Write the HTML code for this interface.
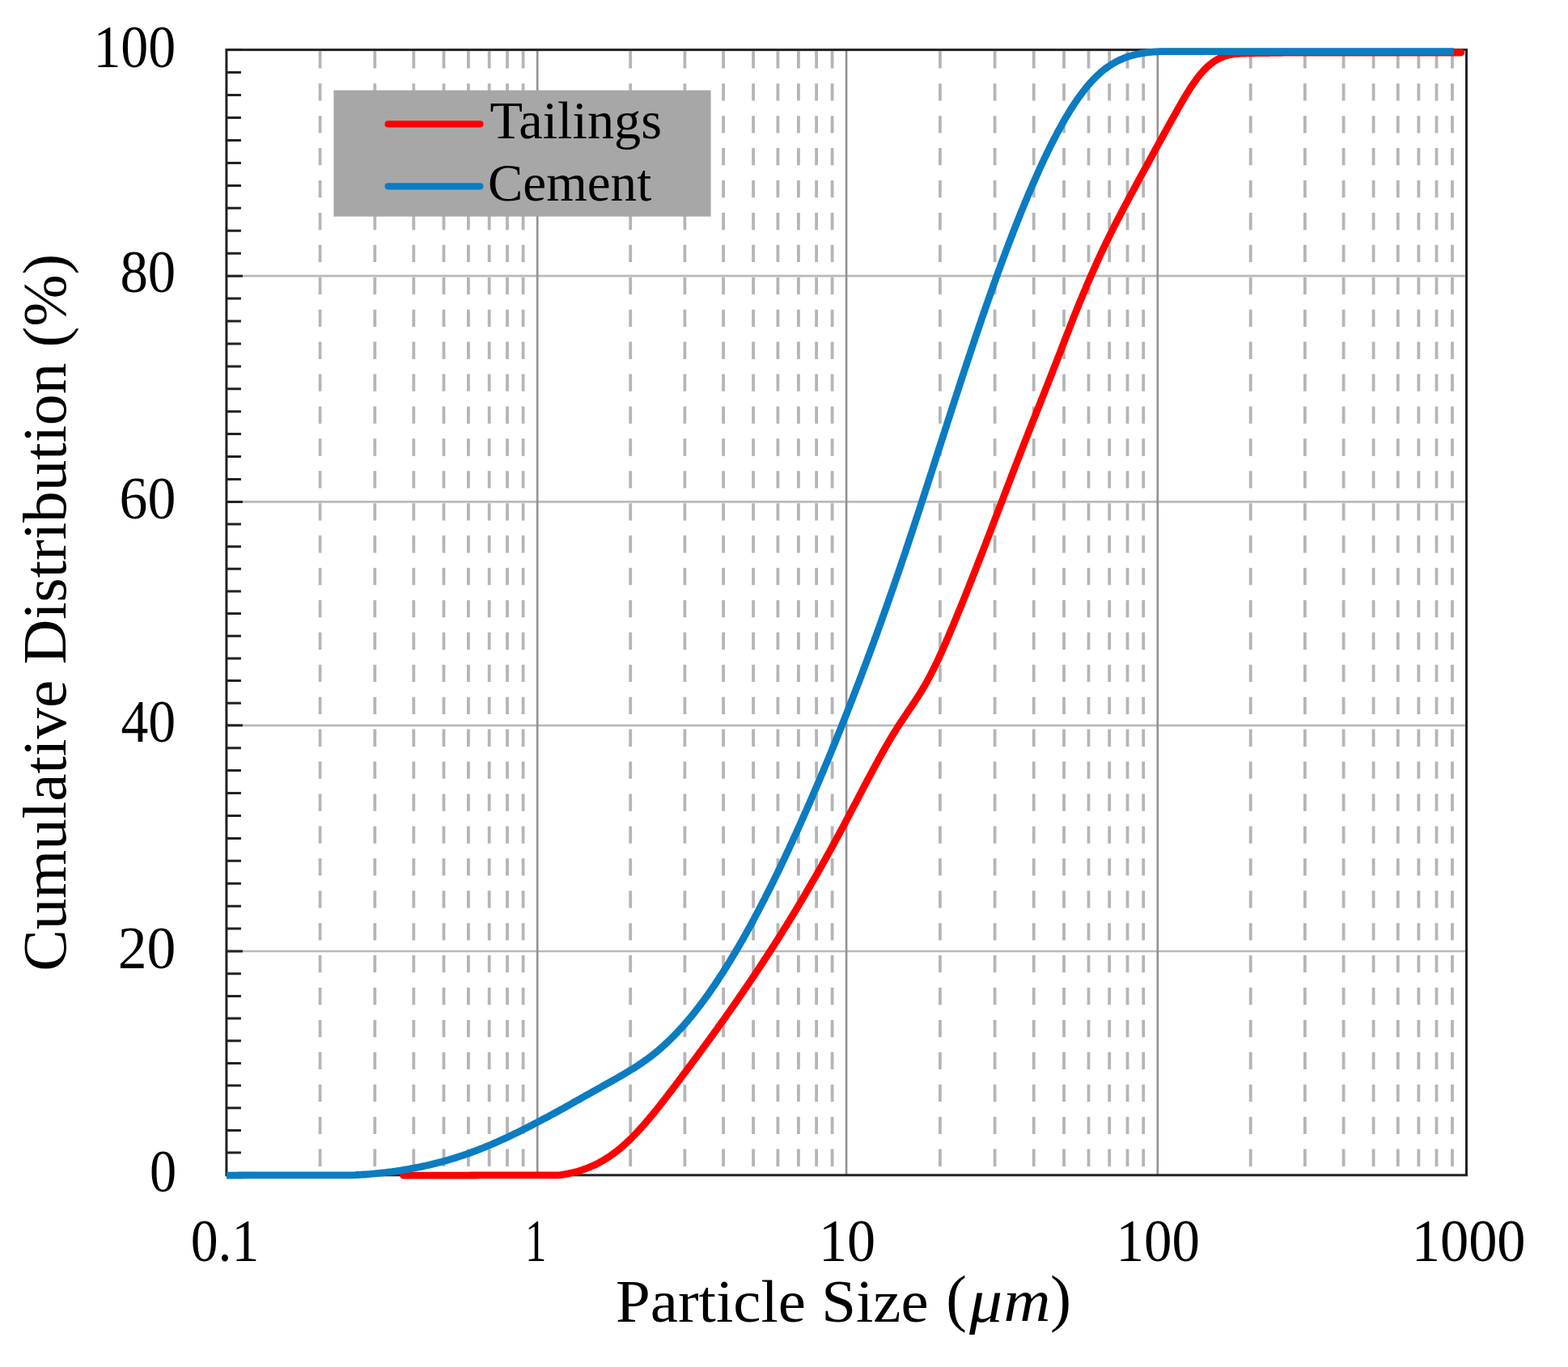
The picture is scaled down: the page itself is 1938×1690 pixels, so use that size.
<!DOCTYPE html><html><head><meta charset="utf-8"><title>Cumulative Distribution</title><style>html,body{margin:0;padding:0;background:#fff;}svg{display:block;}</style></head><body>
<svg xmlns="http://www.w3.org/2000/svg" width="1938" height="1690" viewBox="0 0 1938 1690">
<rect x="0" y="0" width="1938" height="1690" fill="#fff"/>
<path d="M395.6 63.3V1452.8M463.3 63.3V1452.8M511.3 63.3V1452.8M548.5 63.3V1452.8M578.9 63.3V1452.8M604.7 63.3V1452.8M627.0 63.3V1452.8M646.6 63.3V1452.8M779.2 63.3V1452.8M846.4 63.3V1452.8M894.1 63.3V1452.8M931.1 63.3V1452.8M961.4 63.3V1452.8M986.9 63.3V1452.8M1009.1 63.3V1452.8M1028.6 63.3V1452.8M1161.9 63.3V1452.8M1229.6 63.3V1452.8M1277.7 63.3V1452.8M1315.0 63.3V1452.8M1345.5 63.3V1452.8M1371.2 63.3V1452.8M1393.5 63.3V1452.8M1413.2 63.3V1452.8M1545.7 63.3V1452.8M1612.9 63.3V1452.8M1660.6 63.3V1452.8M1697.6 63.3V1452.8M1727.8 63.3V1452.8M1753.4 63.3V1452.8M1775.5 63.3V1452.8M1795.0 63.3V1452.8" stroke="#b5b5b5" stroke-width="3.8" stroke-dasharray="21.3 18.62" fill="none"/>
<path d="M279.9 1176.0H1812.5M279.9 896.8H1812.5M279.9 620.4H1812.5M279.9 341.2H1812.5" stroke="#b9b9b9" stroke-width="2.7" fill="none"/>
<path d="M664.2 61.6V1452.8M1046.1 61.6V1452.8M1430.8 61.6V1452.8" stroke="#919191" stroke-width="2.6" fill="none"/>
<rect x="412.4" y="111.6" width="466.2" height="156.1" fill="#a7a7a7"/>
<rect x="279.9" y="61.6" width="1532.6" height="1391.2" fill="none" stroke="#222" stroke-width="3"/>
<path d="M279.9 1452.8H299.9M279.9 1425.1H297.9M279.9 1397.4H297.9M279.9 1369.8H297.9M279.9 1342.1H297.9M279.9 1314.4H297.9M279.9 1286.7H297.9M279.9 1259.0H297.9M279.9 1231.4H297.9M279.9 1203.7H297.9M279.9 1176.0H299.9M279.9 1148.1H297.9M279.9 1120.2H297.9M279.9 1092.2H297.9M279.9 1064.3H297.9M279.9 1036.4H297.9M279.9 1008.5H297.9M279.9 980.6H297.9M279.9 952.6H297.9M279.9 924.7H297.9M279.9 896.8H299.9M279.9 869.2H297.9M279.9 841.5H297.9M279.9 813.9H297.9M279.9 786.2H297.9M279.9 758.6H297.9M279.9 731.0H297.9M279.9 703.3H297.9M279.9 675.7H297.9M279.9 648.0H297.9M279.9 620.4H299.9M279.9 592.5H297.9M279.9 564.6H297.9M279.9 536.6H297.9M279.9 508.7H297.9M279.9 480.8H297.9M279.9 452.9H297.9M279.9 425.0H297.9M279.9 397.0H297.9M279.9 369.1H297.9M279.9 341.2H299.9M279.9 313.2H297.9M279.9 285.3H297.9M279.9 257.3H297.9M279.9 229.4H297.9M279.9 201.4H297.9M279.9 173.4H297.9M279.9 145.5H297.9M279.9 117.5H297.9M279.9 89.6H297.9M279.9 61.6H299.9" stroke="#222" stroke-width="3" fill="none"/>
<path d="M498.6 1453.2 L501.2 1453.2 L503.8 1453.2 L506.4 1453.2 L509.1 1453.2 L511.7 1453.2 L514.3 1453.2 L516.9 1453.2 L519.5 1453.2 L522.1 1453.2 L524.8 1453.2 L527.4 1453.2 L530.0 1453.2 L532.6 1453.2 L535.2 1453.2 L537.8 1453.2 L540.4 1453.2 L543.1 1453.2 L545.7 1453.2 L548.3 1453.2 L550.9 1453.2 L553.5 1453.2 L556.1 1453.2 L558.8 1453.2 L561.4 1453.2 L564.0 1453.2 L566.6 1453.2 L569.2 1453.2 L571.8 1453.2 L574.4 1453.2 L577.1 1453.1 L579.7 1453.1 L582.3 1453.0 L584.9 1453.0 L587.5 1453.0 L590.1 1452.9 L592.8 1452.9 L595.4 1452.9 L598.0 1452.9 L600.6 1452.9 L603.2 1452.9 L605.8 1452.9 L608.4 1452.9 L611.1 1452.9 L613.7 1452.9 L616.3 1452.9 L618.9 1452.9 L621.5 1452.9 L624.1 1452.9 L626.8 1452.9 L629.4 1452.9 L632.0 1452.9 L634.6 1452.9 L637.2 1452.9 L639.8 1452.9 L642.4 1452.9 L645.1 1452.9 L647.7 1452.9 L650.3 1452.9 L652.9 1452.9 L655.5 1452.9 L658.1 1452.9 L660.8 1452.9 L663.4 1452.9 L666.0 1452.9 L668.6 1452.9 L671.2 1452.9 L673.8 1452.9 L676.5 1452.9 L679.1 1452.9 L681.7 1452.9 L684.3 1452.9 L686.9 1452.9 L689.5 1452.9 L692.1 1452.7 L694.8 1452.3 L697.4 1451.9 L700.0 1451.4 L702.6 1450.9 L705.2 1450.3 L707.8 1449.7 L710.5 1449.1 L713.1 1448.4 L715.7 1447.6 L718.3 1446.8 L720.9 1445.9 L723.5 1445.0 L726.1 1444.0 L728.8 1442.9 L731.4 1441.8 L733.7 1440.8 L736.0 1439.7 L738.2 1438.6 L740.5 1437.4 L742.8 1436.1 L745.1 1434.8 L747.4 1433.5 L749.7 1432.0 L752.0 1430.6 L754.3 1429.0 L756.5 1427.4 L758.8 1425.8 L761.1 1424.0 L763.4 1422.3 L765.4 1420.7 L767.3 1419.0 L769.3 1417.4 L771.3 1415.6 L773.2 1413.9 L775.2 1412.0 L777.1 1410.2 L779.1 1408.3 L781.1 1406.3 L783.0 1404.3 L785.0 1402.3 L787.0 1400.2 L788.9 1398.1 L790.9 1396.0 L792.8 1393.8 L794.8 1391.6 L796.8 1389.4 L798.7 1387.1 L800.4 1385.2 L802.0 1383.3 L803.6 1381.3 L805.3 1379.4 L806.9 1377.4 L808.5 1375.4 L810.2 1373.4 L811.8 1371.4 L813.4 1369.3 L815.1 1367.3 L816.7 1365.2 L818.3 1363.1 L820.0 1361.0 L821.6 1358.9 L823.2 1356.8 L824.9 1354.7 L826.5 1352.5 L828.1 1350.4 L829.8 1348.3 L831.4 1346.1 L833.1 1343.9 L834.7 1341.8 L836.3 1339.6 L838.0 1337.4 L839.6 1335.3 L841.2 1333.1 L842.9 1330.9 L844.5 1328.7 L846.1 1326.5 L847.8 1324.4 L849.4 1322.2 L851.0 1320.0 L852.7 1317.8 L854.3 1315.6 L855.9 1313.4 L857.6 1311.2 L859.2 1309.0 L860.8 1306.8 L862.5 1304.5 L864.1 1302.3 L865.7 1300.1 L867.4 1297.9 L869.0 1295.7 L870.6 1293.4 L872.3 1291.2 L873.9 1289.0 L875.6 1286.7 L877.2 1284.5 L878.8 1282.2 L880.5 1280.0 L882.1 1277.7 L883.7 1275.4 L885.4 1273.2 L887.0 1270.9 L888.6 1268.6 L890.3 1266.3 L891.9 1264.0 L893.5 1261.8 L895.2 1259.5 L896.8 1257.2 L898.4 1254.8 L900.1 1252.5 L901.7 1250.2 L903.3 1247.9 L905.0 1245.6 L906.6 1243.2 L908.2 1240.9 L909.9 1238.5 L911.5 1236.2 L913.1 1233.8 L914.8 1231.4 L916.4 1229.1 L918.1 1226.7 L919.7 1224.3 L921.3 1221.9 L923.0 1219.5 L924.6 1217.1 L926.2 1214.7 L927.9 1212.3 L929.5 1209.9 L931.1 1207.4 L932.8 1205.0 L934.4 1202.5 L936.0 1200.1 L937.7 1197.6 L939.3 1195.2 L940.9 1192.7 L942.6 1190.2 L944.2 1187.7 L945.8 1185.2 L947.5 1182.7 L949.1 1180.2 L950.7 1177.7 L952.4 1175.1 L954.0 1172.6 L955.7 1170.0 L957.3 1167.5 L958.9 1164.9 L960.6 1162.3 L962.2 1159.8 L963.8 1157.2 L965.5 1154.6 L967.1 1152.0 L968.7 1149.3 L970.4 1146.7 L972.0 1144.1 L973.6 1141.4 L975.3 1138.8 L976.6 1136.6 L977.9 1134.5 L979.2 1132.4 L980.5 1130.2 L981.8 1128.1 L983.1 1125.9 L984.4 1123.7 L985.7 1121.6 L987.0 1119.4 L988.3 1117.2 L989.7 1115.0 L991.0 1112.8 L992.3 1110.6 L993.6 1108.4 L994.9 1106.2 L996.2 1103.9 L997.5 1101.7 L998.8 1099.5 L1000.1 1097.2 L1001.4 1095.0 L1002.7 1092.7 L1004.0 1090.4 L1005.3 1088.2 L1006.7 1085.9 L1008.0 1083.6 L1009.3 1081.3 L1010.6 1079.0 L1011.9 1076.7 L1013.2 1074.4 L1014.5 1072.1 L1015.8 1069.8 L1017.1 1067.4 L1018.4 1065.1 L1019.7 1062.8 L1021.0 1060.4 L1022.3 1058.1 L1023.7 1055.7 L1025.0 1053.3 L1026.3 1051.0 L1027.6 1048.6 L1028.9 1046.2 L1030.2 1043.8 L1031.5 1041.4 L1032.8 1039.0 L1034.1 1036.6 L1035.4 1034.2 L1036.7 1031.8 L1038.0 1029.4 L1039.3 1026.9 L1040.7 1024.5 L1042.0 1022.0 L1043.3 1019.6 L1044.6 1017.1 L1045.9 1014.7 L1047.2 1012.2 L1048.5 1009.7 L1049.8 1007.3 L1051.1 1004.8 L1052.4 1002.3 L1053.7 999.8 L1055.0 997.3 L1056.3 994.8 L1057.7 992.3 L1059.0 989.8 L1060.3 987.3 L1061.6 984.8 L1062.9 982.3 L1064.2 979.8 L1065.5 977.3 L1066.8 974.8 L1068.1 972.3 L1069.4 969.8 L1070.7 967.4 L1072.0 964.9 L1073.3 962.4 L1074.7 960.0 L1076.0 957.5 L1077.3 955.1 L1078.6 952.6 L1079.9 950.2 L1081.2 947.8 L1082.5 945.4 L1083.8 943.0 L1085.1 940.6 L1086.4 938.2 L1087.7 935.8 L1089.0 933.5 L1090.3 931.1 L1091.7 928.8 L1093.0 926.5 L1094.3 924.2 L1095.6 921.9 L1096.9 919.7 L1098.2 917.4 L1099.5 915.2 L1100.8 913.0 L1102.1 910.8 L1103.4 908.7 L1104.7 906.5 L1106.4 903.9 L1108.0 901.3 L1109.6 898.7 L1111.3 896.2 L1112.9 893.6 L1114.5 891.2 L1116.2 888.7 L1117.8 886.3 L1119.4 883.9 L1121.1 881.4 L1122.7 879.0 L1124.3 876.6 L1126.0 874.2 L1127.6 871.8 L1129.3 869.3 L1130.9 866.8 L1132.5 864.3 L1134.2 861.8 L1135.8 859.2 L1137.4 856.6 L1139.1 854.0 L1140.4 851.8 L1141.7 849.6 L1143.0 847.4 L1144.3 845.1 L1145.6 842.8 L1146.9 840.4 L1148.2 838.0 L1149.5 835.5 L1150.8 833.0 L1152.1 830.5 L1153.4 827.9 L1154.8 825.2 L1156.1 822.5 L1157.4 819.8 L1158.7 817.1 L1160.0 814.3 L1161.3 811.4 L1162.6 808.6 L1163.9 805.7 L1165.2 802.8 L1166.5 799.8 L1167.8 796.9 L1169.1 793.9 L1170.4 790.8 L1171.8 787.8 L1173.1 784.7 L1174.0 782.4 L1175.0 780.1 L1176.0 777.8 L1177.0 775.5 L1178.0 773.1 L1178.9 770.8 L1179.9 768.4 L1180.9 766.0 L1181.9 763.7 L1182.9 761.3 L1183.8 758.9 L1184.8 756.5 L1185.8 754.1 L1186.8 751.7 L1187.8 749.3 L1188.8 746.9 L1189.7 744.5 L1190.7 742.1 L1191.7 739.6 L1192.7 737.2 L1193.7 734.8 L1194.6 732.3 L1195.6 729.8 L1196.6 727.4 L1197.6 724.9 L1198.6 722.5 L1199.5 720.0 L1200.5 717.5 L1201.5 715.0 L1202.5 712.5 L1203.5 710.0 L1204.4 707.6 L1205.4 705.1 L1206.4 702.6 L1207.4 700.0 L1208.4 697.5 L1209.3 695.0 L1210.3 692.5 L1211.3 690.0 L1212.3 687.5 L1213.3 684.9 L1214.3 682.4 L1215.2 679.9 L1216.2 677.3 L1217.2 674.8 L1218.2 672.3 L1219.2 669.7 L1220.1 667.2 L1221.1 664.6 L1222.1 662.1 L1223.1 659.5 L1224.1 657.0 L1225.0 654.4 L1226.0 651.9 L1227.0 649.3 L1228.0 646.7 L1229.0 644.2 L1229.9 641.6 L1230.9 639.1 L1231.9 636.5 L1232.9 633.9 L1233.9 631.4 L1234.9 628.8 L1235.8 626.2 L1236.8 623.7 L1237.8 621.1 L1238.8 618.6 L1239.8 616.0 L1240.7 613.4 L1241.7 610.9 L1242.7 608.3 L1243.7 605.7 L1244.7 603.2 L1245.6 600.6 L1246.6 598.1 L1247.6 595.5 L1248.6 592.9 L1249.6 590.4 L1250.5 587.8 L1251.5 585.3 L1252.5 582.7 L1253.5 580.2 L1254.5 577.6 L1255.4 575.1 L1256.4 572.6 L1257.4 570.0 L1258.4 567.5 L1259.4 564.9 L1260.4 562.4 L1261.3 559.9 L1262.3 557.4 L1263.3 554.8 L1264.3 552.3 L1265.3 549.8 L1266.2 547.3 L1267.2 544.8 L1268.2 542.3 L1269.2 539.8 L1270.2 537.3 L1271.1 534.8 L1272.1 532.3 L1273.1 529.8 L1274.1 527.3 L1275.1 524.8 L1276.0 522.4 L1277.0 519.9 L1278.0 517.4 L1279.0 515.0 L1280.0 512.5 L1280.9 510.0 L1281.9 507.5 L1282.9 505.1 L1283.9 502.6 L1284.9 500.2 L1285.9 497.7 L1286.8 495.2 L1287.8 492.8 L1288.8 490.3 L1289.8 487.8 L1290.8 485.3 L1291.7 482.9 L1292.7 480.4 L1293.7 477.9 L1294.7 475.5 L1295.7 473.0 L1296.6 470.5 L1297.6 468.0 L1298.6 465.5 L1299.6 463.0 L1300.6 460.5 L1301.5 458.0 L1302.5 455.5 L1303.5 453.0 L1304.5 450.5 L1305.5 448.0 L1306.4 445.4 L1307.4 442.9 L1308.4 440.4 L1309.4 437.8 L1310.4 435.3 L1311.4 432.7 L1312.3 430.2 L1313.3 427.6 L1314.3 425.1 L1315.3 422.5 L1316.3 420.0 L1317.2 417.4 L1318.2 414.9 L1319.2 412.4 L1320.2 409.8 L1321.2 407.3 L1322.1 404.8 L1323.1 402.3 L1324.1 399.8 L1325.1 397.3 L1326.1 394.8 L1327.0 392.3 L1328.0 389.9 L1329.0 387.4 L1330.0 385.0 L1331.0 382.5 L1331.9 380.1 L1332.9 377.7 L1333.9 375.3 L1334.9 372.9 L1335.9 370.5 L1336.9 368.2 L1337.8 365.8 L1338.8 363.4 L1339.8 361.1 L1340.8 358.8 L1341.8 356.4 L1342.7 354.1 L1343.7 351.8 L1345.0 348.8 L1346.3 345.7 L1347.6 342.7 L1348.9 339.7 L1350.3 336.8 L1351.6 333.8 L1352.9 330.9 L1354.2 327.9 L1355.5 325.0 L1356.8 322.2 L1358.1 319.3 L1359.4 316.5 L1360.7 313.7 L1362.0 310.9 L1363.3 308.1 L1364.6 305.3 L1365.9 302.6 L1367.3 299.9 L1368.6 297.2 L1369.9 294.5 L1371.2 291.9 L1372.5 289.2 L1373.8 286.6 L1375.1 284.0 L1376.4 281.4 L1377.7 278.8 L1379.0 276.3 L1380.3 273.7 L1381.6 271.2 L1383.0 268.6 L1384.3 266.1 L1385.6 263.6 L1386.9 261.1 L1388.2 258.6 L1389.5 256.2 L1390.8 253.7 L1392.1 251.2 L1393.4 248.8 L1394.7 246.3 L1396.0 243.9 L1397.3 241.5 L1398.6 239.0 L1400.0 236.6 L1401.3 234.2 L1402.6 231.8 L1403.9 229.4 L1405.2 226.9 L1406.5 224.5 L1407.8 222.1 L1409.1 219.7 L1410.4 217.3 L1411.7 214.9 L1413.0 212.5 L1414.3 210.1 L1415.6 207.7 L1417.0 205.3 L1418.3 202.9 L1419.6 200.5 L1420.9 198.1 L1422.2 195.7 L1423.5 193.3 L1424.8 190.9 L1426.1 188.5 L1427.4 186.1 L1428.7 183.7 L1430.0 181.4 L1431.3 179.0 L1432.6 176.6 L1434.0 174.2 L1435.3 171.8 L1436.6 169.5 L1437.9 167.1 L1439.2 164.7 L1440.5 162.4 L1441.8 160.0 L1443.1 157.6 L1444.4 155.3 L1445.7 152.9 L1447.0 150.6 L1448.3 148.2 L1449.6 145.9 L1451.0 143.5 L1452.3 141.2 L1453.6 138.8 L1454.9 136.5 L1456.2 134.2 L1457.5 131.9 L1458.8 129.6 L1460.1 127.3 L1461.4 125.1 L1462.7 122.8 L1464.0 120.6 L1465.3 118.5 L1466.6 116.3 L1468.3 113.6 L1469.9 111.0 L1471.5 108.5 L1473.2 106.0 L1474.8 103.6 L1476.5 101.2 L1478.1 98.9 L1479.7 96.7 L1481.4 94.6 L1483.0 92.6 L1484.6 90.6 L1486.6 88.4 L1488.5 86.3 L1490.5 84.3 L1492.5 82.4 L1494.4 80.7 L1496.4 79.1 L1498.7 77.3 L1501.0 75.7 L1503.3 74.3 L1505.5 73.0 L1507.8 71.8 L1510.1 70.8 L1512.7 69.8 L1515.4 68.9 L1518.0 68.2 L1520.6 67.6 L1523.2 67.2 L1525.8 66.8 L1528.4 66.5 L1531.1 66.3 L1533.7 66.2 L1536.3 66.1 L1538.9 66.0 L1541.5 65.9 L1544.1 65.9 L1546.7 65.8 L1549.4 65.8 L1552.0 65.7 L1554.6 65.7 L1557.2 65.6 L1559.8 65.6 L1562.4 65.5 L1565.1 65.5 L1567.7 65.5 L1570.3 65.4 L1572.9 65.4 L1575.5 65.3 L1578.1 65.3 L1580.7 65.3 L1583.4 65.3 L1586.0 65.2 L1588.6 65.2 L1591.2 65.2 L1593.8 65.1 L1596.4 65.1 L1599.1 65.1 L1601.7 65.1 L1604.3 65.1 L1606.9 65.0 L1609.5 65.0 L1612.1 65.0 L1614.7 65.0 L1617.4 65.0 L1620.0 65.0 L1622.6 65.0 L1625.2 65.0 L1627.8 65.0 L1630.4 65.0 L1633.1 65.0 L1635.7 65.0 L1638.3 65.0 L1640.9 65.0 L1643.5 65.0 L1646.1 65.0 L1648.7 65.0 L1651.4 65.0 L1654.0 65.0 L1656.6 65.0 L1659.2 65.0 L1661.8 65.0 L1664.4 65.0 L1667.1 65.0 L1669.7 65.0 L1672.3 65.0 L1674.9 65.0 L1677.5 65.0 L1680.1 65.0 L1682.7 65.0 L1685.4 65.0 L1688.0 65.0 L1690.6 65.0 L1693.2 65.0 L1695.8 65.0 L1698.4 65.0 L1701.1 65.0 L1703.7 65.0 L1706.3 65.0 L1708.9 65.0 L1711.5 65.0 L1714.1 65.0 L1716.7 65.0 L1719.4 65.0 L1722.0 65.0 L1724.6 65.0 L1727.2 65.0 L1729.8 65.0 L1732.4 65.0 L1735.1 65.0 L1737.7 65.0 L1740.3 65.0 L1742.9 65.0 L1745.5 65.0 L1748.1 65.0 L1750.7 65.0 L1753.4 65.0 L1756.0 65.0 L1758.6 65.0 L1761.2 65.0 L1763.8 65.0 L1766.4 65.0 L1769.1 65.0 L1771.7 65.0 L1774.3 65.0 L1776.9 65.0 L1779.5 65.0 L1782.1 65.0 L1784.7 65.0 L1787.4 65.0 L1790.0 65.0 L1792.6 65.0 L1795.2 65.0 L1797.8 65.0 L1800.4 65.0 L1803.1 65.0 L1805.7 65.0 L1806.0 65.0" stroke="#ff0000" stroke-width="8.8" fill="none" stroke-linecap="round" stroke-linejoin="round"/>
<path d="M280.0 1453.2 L282.7 1453.2 L285.3 1453.2 L288.0 1453.2 L290.6 1453.2 L293.3 1453.1 L295.9 1453.0 L298.6 1453.0 L301.2 1452.9 L303.9 1452.9 L306.6 1452.8 L309.2 1452.8 L311.9 1452.8 L314.5 1452.8 L317.2 1452.8 L319.8 1452.8 L322.5 1452.8 L325.1 1452.8 L327.8 1452.8 L330.5 1452.8 L333.1 1452.8 L335.8 1452.8 L338.4 1452.8 L341.1 1452.8 L343.7 1452.8 L346.4 1452.8 L349.0 1452.8 L351.7 1452.8 L354.4 1452.8 L357.0 1452.8 L359.7 1452.8 L362.3 1452.8 L365.0 1452.8 L367.6 1452.8 L370.3 1452.8 L372.9 1452.8 L375.6 1452.8 L378.3 1452.8 L380.9 1452.8 L383.6 1452.8 L386.2 1452.8 L388.9 1452.8 L391.5 1452.8 L394.2 1452.8 L396.8 1452.8 L399.5 1452.8 L402.1 1452.8 L404.8 1452.8 L407.5 1452.8 L410.1 1452.8 L412.8 1452.8 L415.4 1452.8 L418.1 1452.8 L420.7 1452.8 L423.4 1452.8 L426.0 1452.8 L428.7 1452.8 L431.4 1452.8 L434.0 1452.8 L436.7 1452.8 L439.3 1452.7 L442.0 1452.5 L444.6 1452.4 L447.3 1452.2 L449.9 1452.0 L452.6 1451.8 L455.3 1451.6 L457.9 1451.4 L460.6 1451.1 L463.2 1450.9 L465.9 1450.6 L468.5 1450.4 L471.2 1450.1 L473.8 1449.8 L476.5 1449.5 L479.2 1449.2 L481.8 1448.8 L484.5 1448.5 L487.1 1448.1 L489.8 1447.8 L492.4 1447.4 L495.1 1447.0 L497.7 1446.5 L500.4 1446.1 L503.1 1445.7 L505.7 1445.2 L508.4 1444.7 L511.0 1444.2 L513.7 1443.7 L516.3 1443.2 L519.0 1442.7 L521.6 1442.1 L524.3 1441.5 L527.0 1441.0 L529.6 1440.4 L532.3 1439.7 L534.9 1439.1 L537.6 1438.4 L540.2 1437.8 L542.9 1437.1 L545.5 1436.4 L548.2 1435.7 L550.9 1434.9 L553.5 1434.2 L556.2 1433.4 L558.8 1432.6 L561.5 1431.8 L564.1 1431.0 L566.8 1430.1 L569.4 1429.2 L572.1 1428.4 L574.8 1427.5 L577.4 1426.5 L580.1 1425.6 L582.7 1424.6 L585.4 1423.6 L588.0 1422.6 L590.7 1421.6 L593.3 1420.6 L596.0 1419.5 L598.6 1418.5 L601.3 1417.4 L604.0 1416.3 L606.6 1415.2 L609.3 1414.0 L611.9 1412.9 L614.6 1411.7 L617.2 1410.5 L619.9 1409.3 L622.2 1408.3 L624.4 1407.2 L626.7 1406.2 L629.0 1405.1 L631.3 1404.0 L633.5 1402.9 L635.8 1401.8 L638.1 1400.7 L640.4 1399.6 L642.7 1398.5 L644.9 1397.4 L647.2 1396.2 L649.5 1395.1 L651.8 1393.9 L654.0 1392.8 L656.3 1391.6 L658.6 1390.4 L660.9 1389.2 L663.1 1388.0 L665.4 1386.8 L667.7 1385.6 L670.0 1384.4 L672.2 1383.2 L674.5 1382.0 L676.8 1380.8 L679.1 1379.5 L681.3 1378.3 L683.6 1377.1 L685.9 1375.8 L688.2 1374.6 L690.5 1373.3 L692.7 1372.1 L695.0 1370.8 L697.3 1369.6 L699.6 1368.3 L701.8 1367.0 L704.1 1365.8 L706.4 1364.5 L708.7 1363.2 L710.9 1361.9 L713.2 1360.7 L715.5 1359.4 L717.8 1358.1 L720.0 1356.8 L722.3 1355.5 L724.6 1354.2 L726.9 1353.0 L729.1 1351.7 L731.4 1350.4 L733.7 1349.1 L736.0 1347.8 L738.2 1346.6 L740.5 1345.3 L742.8 1344.0 L745.1 1342.7 L747.4 1341.4 L749.6 1340.2 L751.9 1338.9 L754.2 1337.6 L756.5 1336.3 L758.7 1335.1 L761.0 1333.8 L763.3 1332.5 L765.6 1331.2 L767.8 1329.9 L770.1 1328.6 L772.4 1327.2 L774.7 1325.9 L776.9 1324.5 L779.2 1323.1 L781.5 1321.7 L783.8 1320.3 L786.0 1318.8 L788.3 1317.4 L790.6 1315.8 L792.9 1314.3 L795.2 1312.7 L797.4 1311.1 L799.7 1309.5 L802.0 1307.8 L804.3 1306.1 L806.5 1304.3 L808.8 1302.5 L811.1 1300.7 L813.4 1298.8 L815.6 1296.8 L817.5 1295.2 L819.4 1293.5 L821.3 1291.8 L823.2 1290.0 L825.1 1288.2 L827.0 1286.4 L828.9 1284.6 L830.8 1282.7 L832.7 1280.8 L834.6 1278.8 L836.5 1276.9 L838.4 1274.8 L840.3 1272.8 L842.2 1270.7 L844.1 1268.6 L846.0 1266.5 L847.9 1264.3 L849.8 1262.1 L851.7 1259.8 L853.6 1257.6 L855.5 1255.3 L857.4 1252.9 L859.3 1250.5 L861.2 1248.1 L863.1 1245.7 L864.9 1243.2 L866.5 1241.2 L868.0 1239.2 L869.5 1237.1 L871.0 1235.1 L872.5 1233.0 L874.1 1230.9 L875.6 1228.7 L877.1 1226.6 L878.6 1224.4 L880.1 1222.2 L881.6 1220.0 L883.2 1217.8 L884.7 1215.5 L886.2 1213.3 L887.7 1211.0 L889.2 1208.7 L890.7 1206.3 L892.3 1204.0 L893.8 1201.6 L895.3 1199.2 L896.8 1196.8 L898.3 1194.4 L899.8 1192.0 L901.4 1189.5 L902.9 1187.0 L904.4 1184.5 L905.9 1182.0 L907.4 1179.5 L909.0 1176.9 L910.5 1174.3 L912.0 1171.8 L913.5 1169.1 L915.0 1166.5 L916.5 1163.9 L918.1 1161.2 L919.6 1158.5 L921.1 1155.8 L922.6 1153.1 L924.1 1150.4 L925.6 1147.6 L927.2 1144.9 L928.7 1142.1 L930.2 1139.3 L931.7 1136.5 L933.2 1133.6 L934.7 1130.8 L936.3 1127.9 L937.8 1125.0 L939.3 1122.1 L940.8 1119.2 L942.3 1116.3 L943.9 1113.3 L945.4 1110.4 L946.5 1108.1 L947.6 1105.9 L948.8 1103.6 L949.9 1101.4 L951.1 1099.1 L952.2 1096.8 L953.3 1094.6 L954.5 1092.3 L955.6 1090.0 L956.8 1087.6 L957.9 1085.3 L959.0 1083.0 L960.2 1080.7 L961.3 1078.3 L962.4 1076.0 L963.6 1073.6 L964.7 1071.2 L965.9 1068.9 L967.0 1066.5 L968.1 1064.1 L969.3 1061.7 L970.4 1059.3 L971.5 1056.9 L972.7 1054.4 L973.8 1052.0 L975.0 1049.6 L976.1 1047.1 L977.2 1044.6 L978.4 1042.2 L979.5 1039.7 L980.6 1037.2 L981.8 1034.7 L982.9 1032.3 L984.1 1029.8 L985.2 1027.2 L986.3 1024.7 L987.5 1022.2 L988.6 1019.7 L989.8 1017.1 L990.9 1014.6 L992.0 1012.0 L993.2 1009.5 L994.3 1006.9 L995.4 1004.3 L996.6 1001.8 L997.7 999.2 L998.9 996.6 L1000.0 994.0 L1001.1 991.4 L1002.3 988.8 L1003.4 986.1 L1004.5 983.5 L1005.7 980.9 L1006.8 978.2 L1008.0 975.6 L1009.1 972.9 L1010.2 970.3 L1011.4 967.6 L1012.5 964.9 L1013.7 962.2 L1014.8 959.6 L1015.9 956.9 L1017.1 954.2 L1018.2 951.4 L1019.3 948.7 L1020.5 946.0 L1021.6 943.3 L1022.8 940.5 L1023.9 937.8 L1025.0 935.1 L1026.2 932.3 L1027.3 929.5 L1028.4 926.8 L1029.6 924.0 L1030.7 921.2 L1031.9 918.4 L1033.0 915.6 L1034.1 912.8 L1035.3 910.0 L1036.4 907.2 L1037.6 904.3 L1038.7 901.5 L1039.8 898.7 L1041.0 895.8 L1042.1 893.0 L1043.2 890.1 L1044.4 887.2 L1045.5 884.3 L1046.7 881.5 L1047.8 878.6 L1048.9 875.7 L1050.1 872.8 L1051.2 869.8 L1052.3 866.9 L1053.5 864.0 L1054.6 861.0 L1055.8 858.1 L1056.9 855.2 L1058.0 852.2 L1059.2 849.2 L1060.3 846.3 L1061.5 843.3 L1062.6 840.3 L1063.7 837.3 L1064.9 834.3 L1066.0 831.3 L1067.1 828.2 L1068.3 825.2 L1069.4 822.2 L1070.6 819.1 L1071.7 816.1 L1072.8 813.0 L1074.0 810.0 L1075.1 806.9 L1076.2 803.8 L1077.4 800.7 L1078.5 797.6 L1079.7 794.5 L1080.8 791.4 L1081.9 788.3 L1083.1 785.2 L1084.2 782.0 L1085.3 778.9 L1086.5 775.7 L1087.6 772.6 L1088.8 769.4 L1089.9 766.2 L1091.0 763.0 L1092.2 759.8 L1093.3 756.6 L1094.5 753.4 L1095.6 750.2 L1096.7 747.0 L1097.9 743.8 L1099.0 740.5 L1100.1 737.3 L1101.3 734.0 L1102.4 730.8 L1103.6 727.5 L1104.7 724.2 L1105.8 720.9 L1107.0 717.6 L1108.1 714.3 L1109.2 711.0 L1110.4 707.7 L1111.5 704.3 L1112.7 701.0 L1113.8 697.7 L1114.9 694.3 L1116.1 690.9 L1117.2 687.6 L1118.4 684.2 L1119.5 680.8 L1120.6 677.4 L1121.8 674.0 L1122.9 670.6 L1124.0 667.2 L1125.2 663.7 L1126.3 660.3 L1127.5 656.9 L1128.6 653.4 L1129.7 650.0 L1130.9 646.5 L1132.0 643.1 L1133.1 639.6 L1134.3 636.1 L1135.4 632.6 L1136.6 629.2 L1137.7 625.7 L1138.8 622.2 L1140.0 618.7 L1141.1 615.2 L1142.3 611.7 L1143.4 608.2 L1144.5 604.7 L1145.7 601.2 L1146.8 597.7 L1147.9 594.1 L1149.1 590.6 L1150.2 587.1 L1151.4 583.6 L1152.5 580.0 L1153.6 576.5 L1154.8 573.0 L1155.9 569.4 L1157.0 565.9 L1158.2 562.4 L1159.3 558.8 L1160.5 555.3 L1161.6 551.8 L1162.7 548.2 L1163.9 544.7 L1165.0 541.2 L1166.1 537.6 L1167.3 534.1 L1168.4 530.6 L1169.6 527.1 L1170.7 523.5 L1171.8 520.0 L1173.0 516.5 L1174.1 513.0 L1175.3 509.4 L1176.4 505.9 L1177.5 502.4 L1178.7 498.9 L1179.8 495.4 L1180.9 491.9 L1182.1 488.4 L1183.2 484.9 L1184.4 481.4 L1185.5 477.9 L1186.6 474.4 L1187.8 470.9 L1188.9 467.4 L1190.0 464.0 L1191.2 460.5 L1192.3 457.0 L1193.5 453.6 L1194.6 450.1 L1195.7 446.7 L1196.9 443.3 L1198.0 439.8 L1199.2 436.4 L1200.3 433.0 L1201.4 429.6 L1202.6 426.2 L1203.7 422.8 L1204.8 419.4 L1206.0 416.0 L1207.1 412.6 L1208.3 409.3 L1209.4 405.9 L1210.5 402.6 L1211.7 399.2 L1212.8 395.9 L1213.9 392.6 L1215.1 389.3 L1216.2 386.0 L1217.4 382.7 L1218.5 379.4 L1219.6 376.2 L1220.8 372.9 L1221.9 369.6 L1223.1 366.4 L1224.2 363.2 L1225.3 360.0 L1226.5 356.7 L1227.6 353.5 L1228.7 350.4 L1229.9 347.2 L1231.0 344.0 L1232.2 340.9 L1233.3 337.7 L1234.4 334.6 L1235.6 331.5 L1236.7 328.4 L1237.8 325.3 L1239.0 322.2 L1240.1 319.1 L1241.3 316.0 L1242.4 313.0 L1243.5 310.0 L1244.7 306.9 L1245.8 303.9 L1246.9 300.9 L1248.1 297.9 L1249.2 295.0 L1250.4 292.0 L1251.5 289.1 L1252.6 286.1 L1253.8 283.2 L1254.9 280.3 L1256.1 277.4 L1257.2 274.5 L1258.3 271.7 L1259.5 268.8 L1260.6 266.0 L1261.7 263.1 L1262.9 260.3 L1264.0 257.5 L1265.2 254.8 L1266.3 252.0 L1267.4 249.2 L1268.6 246.5 L1269.7 243.8 L1270.8 241.1 L1272.0 238.4 L1273.1 235.7 L1274.3 233.0 L1275.4 230.4 L1276.5 227.8 L1277.7 225.2 L1278.8 222.6 L1280.0 220.0 L1281.1 217.4 L1282.2 214.9 L1283.4 212.3 L1284.5 209.8 L1285.6 207.3 L1286.8 204.8 L1287.9 202.4 L1289.1 199.9 L1290.2 197.5 L1291.3 195.1 L1292.5 192.7 L1293.6 190.3 L1294.7 188.0 L1295.9 185.7 L1297.0 183.3 L1298.2 181.0 L1299.3 178.8 L1300.4 176.5 L1301.6 174.3 L1303.1 171.3 L1304.6 168.4 L1306.1 165.5 L1307.6 162.7 L1309.2 159.9 L1310.7 157.1 L1312.2 154.4 L1313.7 151.7 L1315.2 149.0 L1316.7 146.4 L1318.3 143.8 L1319.8 141.3 L1321.3 138.8 L1322.8 136.3 L1324.3 133.9 L1325.9 131.5 L1327.4 129.2 L1328.9 126.9 L1330.4 124.7 L1331.9 122.4 L1333.4 120.3 L1335.0 118.2 L1336.5 116.1 L1338.0 114.1 L1339.9 111.6 L1341.8 109.2 L1343.7 106.9 L1345.6 104.6 L1347.5 102.5 L1349.4 100.4 L1351.3 98.3 L1353.2 96.4 L1355.1 94.5 L1357.0 92.7 L1358.9 91.0 L1360.8 89.3 L1363.0 87.4 L1365.3 85.6 L1367.6 83.9 L1369.9 82.3 L1372.1 80.8 L1374.4 79.3 L1376.7 78.0 L1379.0 76.7 L1381.2 75.5 L1383.5 74.4 L1385.8 73.4 L1388.4 72.2 L1391.1 71.2 L1393.8 70.2 L1396.4 69.4 L1399.1 68.6 L1401.7 67.9 L1404.4 67.2 L1407.0 66.7 L1409.7 66.1 L1412.3 65.7 L1415.0 65.3 L1417.7 64.9 L1420.3 64.6 L1423.0 64.4 L1425.6 64.2 L1428.3 64.0 L1430.9 63.8 L1433.6 63.7 L1436.2 63.6 L1438.9 63.6 L1441.6 63.6 L1444.2 63.6 L1446.9 63.6 L1449.5 63.6 L1452.2 63.6 L1454.8 63.6 L1457.5 63.6 L1460.1 63.6 L1462.8 63.6 L1465.5 63.6 L1468.1 63.6 L1470.8 63.6 L1473.4 63.6 L1476.1 63.6 L1478.7 63.6 L1481.4 63.6 L1484.0 63.6 L1486.7 63.6 L1489.4 63.6 L1492.0 63.6 L1494.7 63.6 L1497.3 63.6 L1500.0 63.6 L1502.6 63.6 L1505.3 63.6 L1507.9 63.6 L1510.6 63.6 L1513.3 63.6 L1515.9 63.6 L1518.6 63.6 L1521.2 63.6 L1523.9 63.6 L1526.5 63.6 L1529.2 63.6 L1531.8 63.6 L1534.5 63.6 L1537.1 63.6 L1539.8 63.6 L1542.5 63.6 L1545.1 63.6 L1547.8 63.6 L1550.4 63.6 L1553.1 63.6 L1555.7 63.6 L1558.4 63.6 L1561.0 63.6 L1563.7 63.6 L1566.4 63.6 L1569.0 63.6 L1571.7 63.6 L1574.3 63.6 L1577.0 63.6 L1579.6 63.6 L1582.3 63.6 L1584.9 63.6 L1587.6 63.6 L1590.3 63.6 L1592.9 63.6 L1595.6 63.6 L1598.2 63.6 L1600.9 63.6 L1603.5 63.6 L1606.2 63.6 L1608.8 63.6 L1611.5 63.6 L1614.2 63.6 L1616.8 63.6 L1619.5 63.6 L1622.1 63.6 L1624.8 63.6 L1627.4 63.6 L1630.1 63.6 L1632.7 63.6 L1635.4 63.6 L1638.1 63.6 L1640.7 63.6 L1643.4 63.6 L1646.0 63.6 L1648.7 63.6 L1651.3 63.6 L1654.0 63.6 L1656.6 63.6 L1659.3 63.6 L1662.0 63.6 L1664.6 63.6 L1667.3 63.6 L1669.9 63.6 L1672.6 63.6 L1675.2 63.6 L1677.9 63.6 L1680.5 63.6 L1683.2 63.6 L1685.9 63.6 L1688.5 63.6 L1691.2 63.6 L1693.8 63.6 L1696.5 63.6 L1699.1 63.6 L1701.8 63.6 L1704.4 63.6 L1707.1 63.6 L1709.8 63.6 L1712.4 63.6 L1715.1 63.6 L1717.7 63.6 L1720.4 63.6 L1723.0 63.6 L1725.7 63.6 L1728.3 63.6 L1731.0 63.6 L1733.6 63.6 L1736.3 63.6 L1739.0 63.6 L1741.6 63.6 L1744.3 63.6 L1746.9 63.6 L1749.6 63.6 L1752.2 63.6 L1754.9 63.6 L1757.5 63.6 L1760.2 63.6 L1762.9 63.6 L1765.5 63.6 L1768.2 63.6 L1770.8 63.6 L1773.5 63.6 L1776.1 63.6 L1778.8 63.6 L1781.4 63.6 L1784.1 63.6 L1786.8 63.6 L1789.4 63.6 L1792.1 63.6 L1794.7 63.6 L1797.0 63.6" stroke="#0b7cc2" stroke-width="8.8" fill="none" stroke-linecap="butt" stroke-linejoin="round"/>
<path d="M479.6 153.4H593.4" stroke="#ff0000" stroke-width="8.2" stroke-linecap="round"/>
<path d="M479.6 230.3H593.4" stroke="#0b7cc2" stroke-width="8.2" stroke-linecap="round"/>
<g font-family="Liberation Serif, Times New Roman, serif" fill="#000">
<text x="115.4" y="82.8" font-size="73.5" textLength="101.9" lengthAdjust="spacingAndGlyphs">100</text>
<text x="148.5" y="361.4" font-size="73.5" textLength="68.7" lengthAdjust="spacingAndGlyphs">80</text>
<text x="147.6" y="640.6" font-size="73.5" textLength="69.7" lengthAdjust="spacingAndGlyphs">60</text>
<text x="149.5" y="917.0" font-size="73.5" textLength="67.7" lengthAdjust="spacingAndGlyphs">40</text>
<text x="145.7" y="1196.7" font-size="73.5" textLength="71.6" lengthAdjust="spacingAndGlyphs">20</text>
<text x="184.9" y="1473.3" font-size="73.5" textLength="33.1" lengthAdjust="spacingAndGlyphs">0</text>
<text x="235.7" y="1558.8" font-size="73.5" textLength="84.6" lengthAdjust="spacingAndGlyphs">0.1</text>
<text x="649.1" y="1558.8" font-size="73.5" textLength="26.4" lengthAdjust="spacingAndGlyphs">1</text>
<text x="1011.9" y="1558.8" font-size="73.5" textLength="70.2" lengthAdjust="spacingAndGlyphs">10</text>
<text x="1379.6" y="1558.8" font-size="73.5" textLength="103.3" lengthAdjust="spacingAndGlyphs">100</text>
<text x="1744.7" y="1558.8" font-size="73.5" textLength="140.9" lengthAdjust="spacingAndGlyphs">1000</text>
<text x="605.4" y="171.0" font-size="65" textLength="212.6" lengthAdjust="spacingAndGlyphs">Tailings</text>
<text x="603.0" y="248.3" font-size="65" textLength="202.2" lengthAdjust="spacingAndGlyphs">Cement</text>
</g>
<g font-family="Liberation Serif, Times New Roman, serif" fill="#000">
<text x="761.1" y="1633.7" font-size="75" textLength="386.5" lengthAdjust="spacingAndGlyphs">Particle Size</text>
<text x="1169.3" y="1631.2" font-size="78" textLength="25.6" lengthAdjust="spacingAndGlyphs">(</text>
<text x="1298.0" y="1631.2" font-size="78" textLength="26.1" lengthAdjust="spacingAndGlyphs">)</text>
<text x="1198.1" y="1634.4" font-size="77" textLength="41.0" lengthAdjust="spacingAndGlyphs" font-style="italic">μ</text>
<text x="1240.5" y="1633.0" font-size="75" textLength="58.0" lengthAdjust="spacingAndGlyphs" font-style="italic">m</text>
</g>
<text transform="translate(80.6 0) rotate(-90)" x="-1200.7" y="0" font-family="Liberation Serif, Times New Roman, serif" font-size="77" textLength="886.8" lengthAdjust="spacingAndGlyphs">Cumulative Distribution (%)</text>
</svg></body></html>
